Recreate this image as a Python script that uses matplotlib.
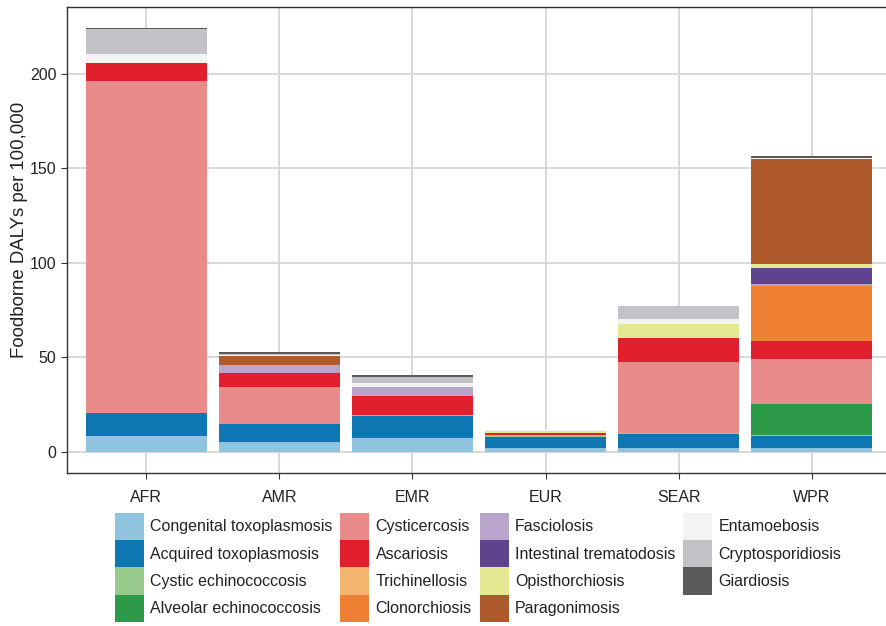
import matplotlib.pyplot as plt
import numpy as np

plt.rcParams['font.family'] = ['Liberation Sans', 'DejaVu Sans']

# Regions and foodborne DALYs per 100,000 by hazard
regions = ['AFR', 'AMR', 'EMR', 'EUR', 'SEAR', 'WPR']

congenital_toxo = [8.4, 5.1, 7.2, 2.2, 2.2, 2.2]
acquired_toxo = [12.0, 9.5, 11.6, 6.0, 7.3, 6.4]
cystic_echino = [0.2, 0.3, 0.6, 0.6, 0.5, 0.3]
alveolar_echino = [0.0, 0.0, 0.1, 0.2, 0.0, 16.3]
cysticercosis = [175.4, 19.5, 0.2, 0.0, 37.5, 24.0]
ascariosis = [9.3, 7.4, 10.0, 1.2, 12.5, 9.7]
trichinellosis = [0.0, 0.1, 0.0, 0.1, 0.0, 0.0]
clonorchiosis = [0.0, 0.0, 0.0, 0.0, 0.0, 29.0]
fasciolosis = [0.1, 4.3, 4.6, 0.0, 0.1, 0.9]
intestinal_trem = [0.0, 0.0, 0.3, 0.0, 0.2, 8.5]
opisthorchiosis = [0.0, 0.0, 0.0, 1.0, 7.4, 2.0]
paragonimosis = [0.0, 4.7, 0.0, 0.0, 0.0, 55.4]
entamoebosis = [4.8, 0.6, 2.0, 0.1, 2.6, 0.8]
cryptosporidiosis = [13.2, 0.5, 3.3, 0.1, 7.0, 0.1]
giardiosis = [0.9, 0.6, 0.9, 0.1, 0.05, 0.6]

hazards = ['Congenital toxoplasmosis', 'Acquired toxoplasmosis', 'Cystic echinococcosis',
           'Alveolar echinococcosis', 'Cysticercosis', 'Ascariosis', 'Trichinellosis',
           'Clonorchiosis', 'Fasciolosis', 'Intestinal trematodosis', 'Opisthorchiosis',
           'Paragonimosis', 'Entamoebosis', 'Cryptosporidiosis', 'Giardiosis']
series = [congenital_toxo, acquired_toxo, cystic_echino, alveolar_echino, cysticercosis,
          ascariosis, trichinellosis, clonorchiosis, fasciolosis, intestinal_trem,
          opisthorchiosis, paragonimosis, entamoebosis, cryptosporidiosis, giardiosis]
colors = ['#8fc3de', '#0e76b3', '#98cb8b', '#2d9a4a', '#e98b8b', '#e21f2d', '#f4b66e',
          '#ef7f32', '#b9a5cb', '#5f438f', '#e5e893', '#af5a2c', '#f2f3f2', '#c2c3c6',
          '#5a5a5a']

fig = plt.figure(figsize=(8.87, 6.26), dpi=100)
ax = fig.add_axes([0.0755, 0.244, 0.9245, 0.745])

x = np.arange(len(regions))
bottom = np.zeros(len(regions))
for name, vals, c in zip(hazards, series, colors):
    ax.bar(x, vals, width=0.91, bottom=bottom, color=c, label=name, linewidth=0, zorder=2)
    bottom += np.array(vals)

# Axes styling
ax.set_xlim(-0.595, 5.565)
ax.set_ylim(-11.2, 235.2)
ax.set_xticks(x)
ax.set_xticklabels(regions, fontsize=11.5, color='#222222')
ax.set_yticks([0, 50, 100, 150, 200])
ax.tick_params(axis='y', labelsize=11.5, labelcolor='#222222', length=4, color='#333333')
ax.tick_params(axis='x', length=4, color='#333333', pad=8)
ax.set_ylabel('Foodborne DALYs per 100,000', fontsize=13.4, color='#222222')
ax.yaxis.set_label_coords(-0.047, 0.522)
ax.grid(color='#d6d6d6', linewidth=1.3, zorder=0)
ax.set_axisbelow(True)
ax.spines['right'].set_visible(False)
for s in ['left', 'top', 'bottom']:
    ax.spines[s].set_color('#333333')
    ax.spines[s].set_linewidth(1.0)

# Legend below the plot
ax.legend(loc='upper center', bbox_to_anchor=(0.539, 0.181), bbox_transform=fig.transFigure,
          ncol=4, frameon=False, fontsize=11.5, handlelength=1.81, handleheight=2.25,
          labelspacing=0, handletextpad=0.4, columnspacing=0.5, borderpad=0,
          borderaxespad=0, labelcolor='#222222')

plt.savefig('out.png', dpi=100)
